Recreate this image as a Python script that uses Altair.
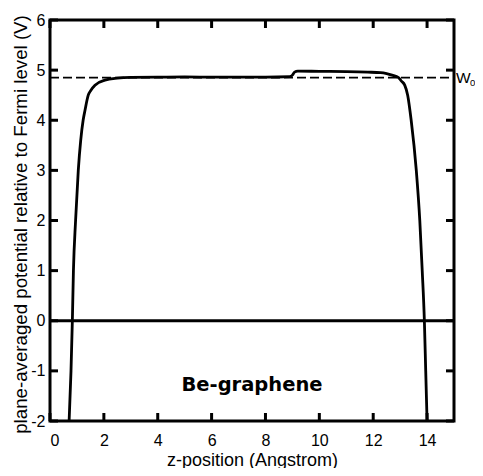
import altair as alt
import pandas as pd

# Curve data
z_vals = [0.71, 0.78, 0.83, 0.87, 0.95, 1.05, 1.14, 1.23, 1.30, 1.42, 1.52, 1.67,
          2.04, 2.5, 3.0, 4.0, 5.0, 6.0, 7.0, 8.0, 8.9, 9.0, 9.08, 9.2, 10.0,
          11.0, 11.8, 12.27, 12.5, 12.7, 12.94, 13.05, 13.17, 13.28, 13.41,
          13.6, 13.73, 13.82, 13.9, 13.95, 14.0]
v_vals = [-2.0, -1.0, 0.0, 1.0, 2.0, 3.0, 3.6, 4.0, 4.2, 4.5, 4.6, 4.7,
          4.8, 4.84, 4.855, 4.86, 4.865, 4.86, 4.86, 4.86, 4.87, 4.9, 4.96, 4.98, 4.975,
          4.97, 4.96, 4.95, 4.93, 4.9, 4.85, 4.78, 4.7, 4.5, 4.0,
          3.0, 2.0, 1.0, 0.0, -1.0, -2.0]

w0_value = 4.85
x_ticks = [0, 2, 4, 6, 8, 10, 12, 14]
y_ticks = [-2, -1, 0, 1, 2, 3, 4, 5, 6]
label_text = ["Be-graphene"]
label_pos = [(7.5, -1.28)]

W, H = 404, 401
FONT = "Liberation Sans"

curve = pd.DataFrame({"z": z_vals, "V": v_vals})
xt = pd.DataFrame({"z": x_ticks})
yt = pd.DataFrame({"V": y_ticks})
lab = pd.DataFrame({"z": [p[0] for p in label_pos], "V": [p[1] for p in label_pos], "t": label_text})
w0 = pd.DataFrame({"V": [w0_value]})

xscale = alt.Scale(domain=[0, 15], nice=False, zero=False)
yscale = alt.Scale(domain=[-2, 6], nice=False, zero=False)

xaxis = alt.Axis(values=x_ticks, ticks=False, domain=False, grid=False,
                 labelFontSize=16, labelFont=FONT, labelColor="black", labelPadding=11.5,
                 title="z-position (Angstrom)", titleFontSize=18, titleFont=FONT,
                 titleFontWeight="normal", titleColor="black",
                 titleX=W / 2, titleY=44, titleBaseline="alphabetic", titleAlign="center")
yaxis = alt.Axis(values=y_ticks, ticks=False, domain=False, grid=False,
                 labelExpr="'' + datum.value",
                 labelFontSize=16, labelFont=FONT, labelColor="black", labelPadding=5,
                 title="plane-averaged potential relative to Fermi level (V)",
                 titleFontSize=18.7, titleFont=FONT, titleFontWeight="normal",
                 titleColor="black", titleX=-24, titleY=204, titleBaseline="alphabetic",
                 titleAlign="center", titleAngle=270)

line = alt.Chart(curve).mark_line(color="black", strokeWidth=2.8, interpolate="monotone", clip=True).encode(
    x=alt.X("z:Q", scale=xscale, axis=xaxis),
    y=alt.Y("V:Q", scale=yscale, axis=yaxis),
)

zero = alt.Chart(w0).mark_rule(color="black", strokeWidth=2.8).encode(
    y=alt.datum(0), x=alt.value(0), x2=alt.value(W))

dash = alt.Chart(w0).mark_rule(color="black", strokeWidth=1.6, strokeDash=[9, 4]).encode(
    y="V:Q", x=alt.value(0), x2=alt.value(W))

tick_kw = dict(color="black", thickness=3, size=8, opacity=1)
xt_bot = alt.Chart(xt).mark_tick(orient="vertical", **tick_kw).encode(
    x="z:Q", y=alt.value(H - 4))
xt_top = alt.Chart(xt).mark_tick(orient="vertical", **tick_kw).encode(
    x="z:Q", y=alt.value(4))
yt_left = alt.Chart(yt).mark_tick(orient="horizontal", **tick_kw).encode(
    y="V:Q", x=alt.value(4))
yt_right = alt.Chart(yt).mark_tick(orient="horizontal", **tick_kw).encode(
    y="V:Q", x=alt.value(W - 4))

text = alt.Chart(lab).mark_text(font="DejaVu Sans", fontSize=19.5, fontWeight="bold",
                                color="black", align="center", baseline="middle").encode(
    x="z:Q", y="V:Q", text="t:N")

w_lbl = alt.Chart(w0).mark_text(font=FONT, fontSize=15.5, color="black", align="left",
                                baseline="middle").encode(
    y="V:Q", x=alt.value(W + 2), text=alt.value("W"))
w_sub = alt.Chart(w0).mark_text(font=FONT, fontSize=9.5, color="black", align="left",
                                baseline="middle", dy=5).encode(
    y="V:Q", x=alt.value(W + 16), text=alt.value("0"))

chart = alt.layer(line, zero, dash, xt_bot, xt_top, yt_left, yt_right, text, w_lbl, w_sub).properties(
    width=W, height=H,
    autosize=alt.AutoSizeParams(type="none"),
    padding={"left": 42, "top": 12, "right": 21, "bottom": 47},
).configure_view(stroke="black", strokeWidth=3)

chart.save("out.html", embed_options={"renderer": "svg", "actions": False})
